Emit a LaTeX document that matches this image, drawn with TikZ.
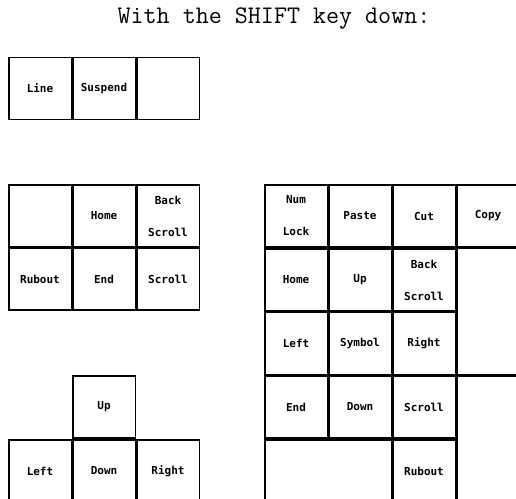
\documentclass[tikz,border=0pt]{standalone}
\usepackage{fontspec}
\usepackage{tikz}
\newfontfamily\keyfont{DejaVu Sans Mono}

\begin{document}
\begin{tikzpicture}[x=1pt, y=-1pt,
  key/.style={draw, line width=1.5pt, minimum width=62.5pt, minimum height=62pt,
    inner sep=0pt, align=center, font=\keyfont\bfseries\fontsize{11}{32}\selectfont},
  tallkey/.style={key, minimum height=126pt},
  widekey/.style={key, minimum width=126.5pt}]
  \useasboundingbox (0,0) rectangle (516,498);
  \node[font=\ttfamily\fontsize{25.3}{26}\selectfont] (title) at (274,18.5) {With the SHIFT key down:};
  % top row
  \node[key] (line) at (40,88.5) {Line};
  \node[key] (suspend) at (104,88.5) {Suspend};
  \node[key] (blank1) at (168,88.5) {};
  % editing block
  \node[key] (blank2) at (40,216) {};
  \node[key] (homeA) at (104,216) {Home};
  \node[key] (backA) at (168,216) {Back\\Scroll};
  \node[key] (ruboutA) at (40,279) {Rubout};
  \node[key] (endA) at (104,279) {End};
  \node[key] (scrollA) at (168,279) {Scroll};
  % arrows
  \node[key] (upA) at (104,407) {Up};
  \node[key] (leftA) at (40,471) {Left};
  \node[key] (downA) at (104,471) {Down};
  \node[key] (rightA) at (168,471) {Right};
  % keypad
  \node[key] (numlock) at (296,216) {Num\\Lock};
  \node[key] (paste) at (360,216) {Paste};
  \node[key] (cut) at (424,216) {Cut};
  \node[key] (copy) at (488,216) {Copy};
  \node[key] (homeB) at (296,280) {Home};
  \node[key] (upB) at (360,280) {Up};
  \node[key] (backB) at (424,280) {Back\\Scroll};
  \node[tallkey] (blank3) at (488,311.5) {};
  \node[key] (leftB) at (296,343.5) {Left};
  \node[key] (symbol) at (360,343.5) {Symbol};
  \node[key] (rightB) at (424,343.5) {Right};
  \node[key] (endB) at (296,407) {End};
  \node[key] (downB) at (360,407) {Down};
  \node[key] (scrollB) at (424,407) {Scroll};
  \node[tallkey] (blank4) at (488,439) {};
  \node[widekey] (blank5) at (328,471) {};
  \node[key] (ruboutB) at (424,471) {Rubout};
\end{tikzpicture}
\end{document}
